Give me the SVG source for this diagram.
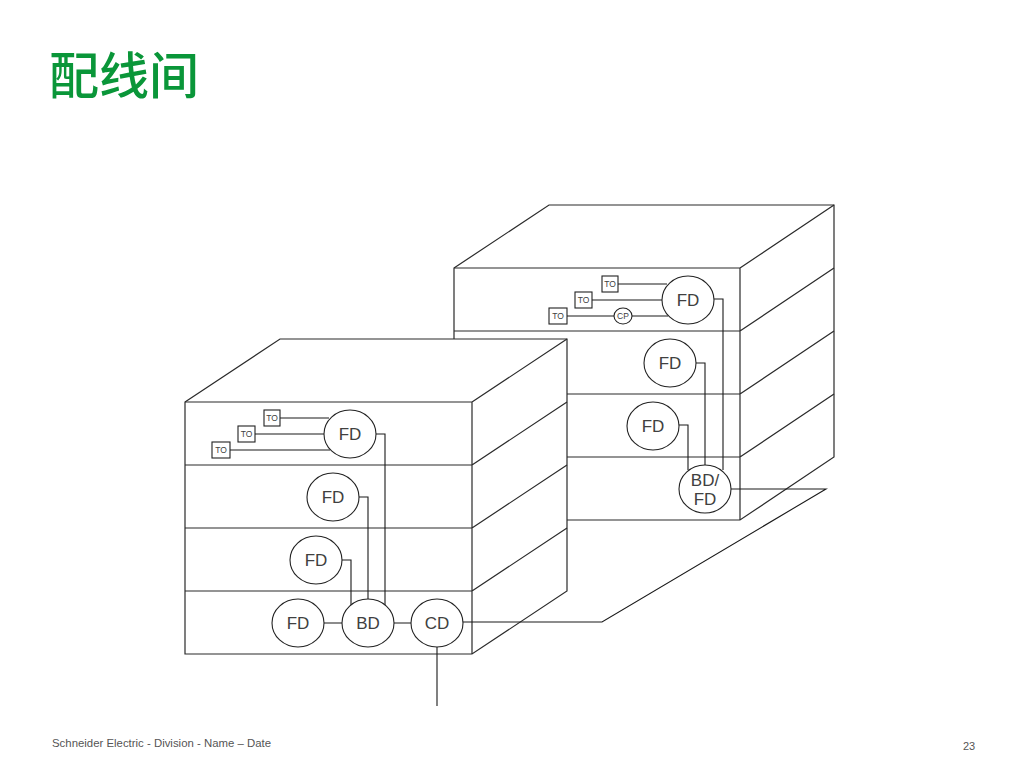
<svg xmlns="http://www.w3.org/2000/svg" width="1024" height="768" viewBox="0 0 1024 768">
<style>
.b{fill:#fff;stroke:#2a2a2a;stroke-width:1.2}
.f{fill:none;stroke:#2a2a2a;stroke-width:1.2}
.w{fill:none;stroke:#1a1a1a;stroke-width:1.1}
.n{fill:#fff;stroke:#222;stroke-width:1.1}
.t{font-family:"Liberation Sans",Arial,sans-serif;font-size:17px;fill:#404040;text-anchor:middle}
.s{font-family:"Liberation Sans",Arial,sans-serif;font-size:8.500px;fill:#404040;text-anchor:middle}
.foot{font-family:"Liberation Sans",Arial,sans-serif;font-size:11.400px;fill:#555}
</style>
<rect width="1024" height="768" fill="#fff"/>
<text x="49" y="94" font-family="'Noto Sans CJK SC',sans-serif" font-size="50" font-weight="500" fill="#0a9639">配线间</text>
<g id="building-right">
<path class="b" d="M454 268L549 205H834V457L740 520H454Z"/>
<path class="f" d="M454 268H740V520M454 331H740M454 394H740M454 457H740M740 268L834 205M740 331L834 268M740 394L834 331M740 457L834 394"/>
</g>
<g id="building-left">
<path class="b" d="M185 402L280 339H567V591L472 654H185Z"/>
<path class="f" d="M185 402H472V654M185 465H472M185 528H472M185 591H472M472 402L567 339M472 465L567 402M472 528L567 465M472 591L567 528"/>
</g>
<g id="connectors">
<path class="w" d="M618 284H667M592 300H662M567 316H614M632 316H668M714 299H723V470M696 363H705V465M679 425H688V470M731 489H826L602 622H462"/>
<path class="w" d="M280 418H329M254 434H324M229 450H330M376 434H385V605M359 497H368V599M342 560H351V605M324 623H342M394 623H411M437 647V706"/>
</g>
<g id="to-r1"><rect class="n" x="602" y="276" width="16" height="16"/><text class="s" x="610" y="287">TO</text></g>
<g id="to-r2"><rect class="n" x="575" y="292" width="17" height="16"/><text class="s" x="583.500" y="303">TO</text></g>
<g id="to-r3"><rect class="n" x="549" y="308" width="18" height="16"/><text class="s" x="558" y="319">TO</text></g>
<g id="cp-r"><ellipse class="n" cx="623" cy="316" rx="9" ry="8"/><text class="s" x="623" y="319">CP</text></g>
<g id="fd-r1"><ellipse class="n" cx="688" cy="300" rx="26" ry="24"/><text class="t" x="688" y="305.500">FD</text></g>
<g id="fd-r2"><ellipse class="n" cx="670" cy="363" rx="26" ry="24"/><text class="t" x="670" y="368.500">FD</text></g>
<g id="fd-r3"><ellipse class="n" cx="653" cy="426" rx="26" ry="24"/><text class="t" x="653" y="431.500">FD</text></g>
<g id="bdfd-r"><ellipse class="n" cx="705" cy="489" rx="26" ry="24"/><text class="t" x="705" y="486">BD/</text><text class="t" x="705" y="504.500">FD</text></g>
<g id="to-l1"><rect class="n" x="264" y="410" width="16" height="16"/><text class="s" x="272" y="421">TO</text></g>
<g id="to-l2"><rect class="n" x="238" y="426" width="17" height="16"/><text class="s" x="246.500" y="437">TO</text></g>
<g id="to-l3"><rect class="n" x="212" y="442" width="18" height="16"/><text class="s" x="221" y="453">TO</text></g>
<g id="fd-l1"><ellipse class="n" cx="350" cy="434" rx="26" ry="24"/><text class="t" x="350" y="439.500">FD</text></g>
<g id="fd-l2"><ellipse class="n" cx="333" cy="497" rx="26" ry="24"/><text class="t" x="333" y="502.500">FD</text></g>
<g id="fd-l3"><ellipse class="n" cx="316" cy="560" rx="26" ry="24"/><text class="t" x="316" y="565.500">FD</text></g>
<g id="fd-l4"><ellipse class="n" cx="298" cy="623" rx="26" ry="24"/><text class="t" x="298" y="628.500">FD</text></g>
<g id="bd-l"><ellipse class="n" cx="368" cy="623" rx="26" ry="24"/><text class="t" x="368" y="628.500">BD</text></g>
<g id="cd-l"><ellipse class="n" cx="437" cy="623" rx="26" ry="24"/><text class="t" x="437" y="628.500">CD</text></g>
<text class="foot" x="52" y="747">Schneider Electric - Division - Name – Date</text>
<text class="foot" x="963" y="750" style="font-size:11px">23</text>
</svg>
